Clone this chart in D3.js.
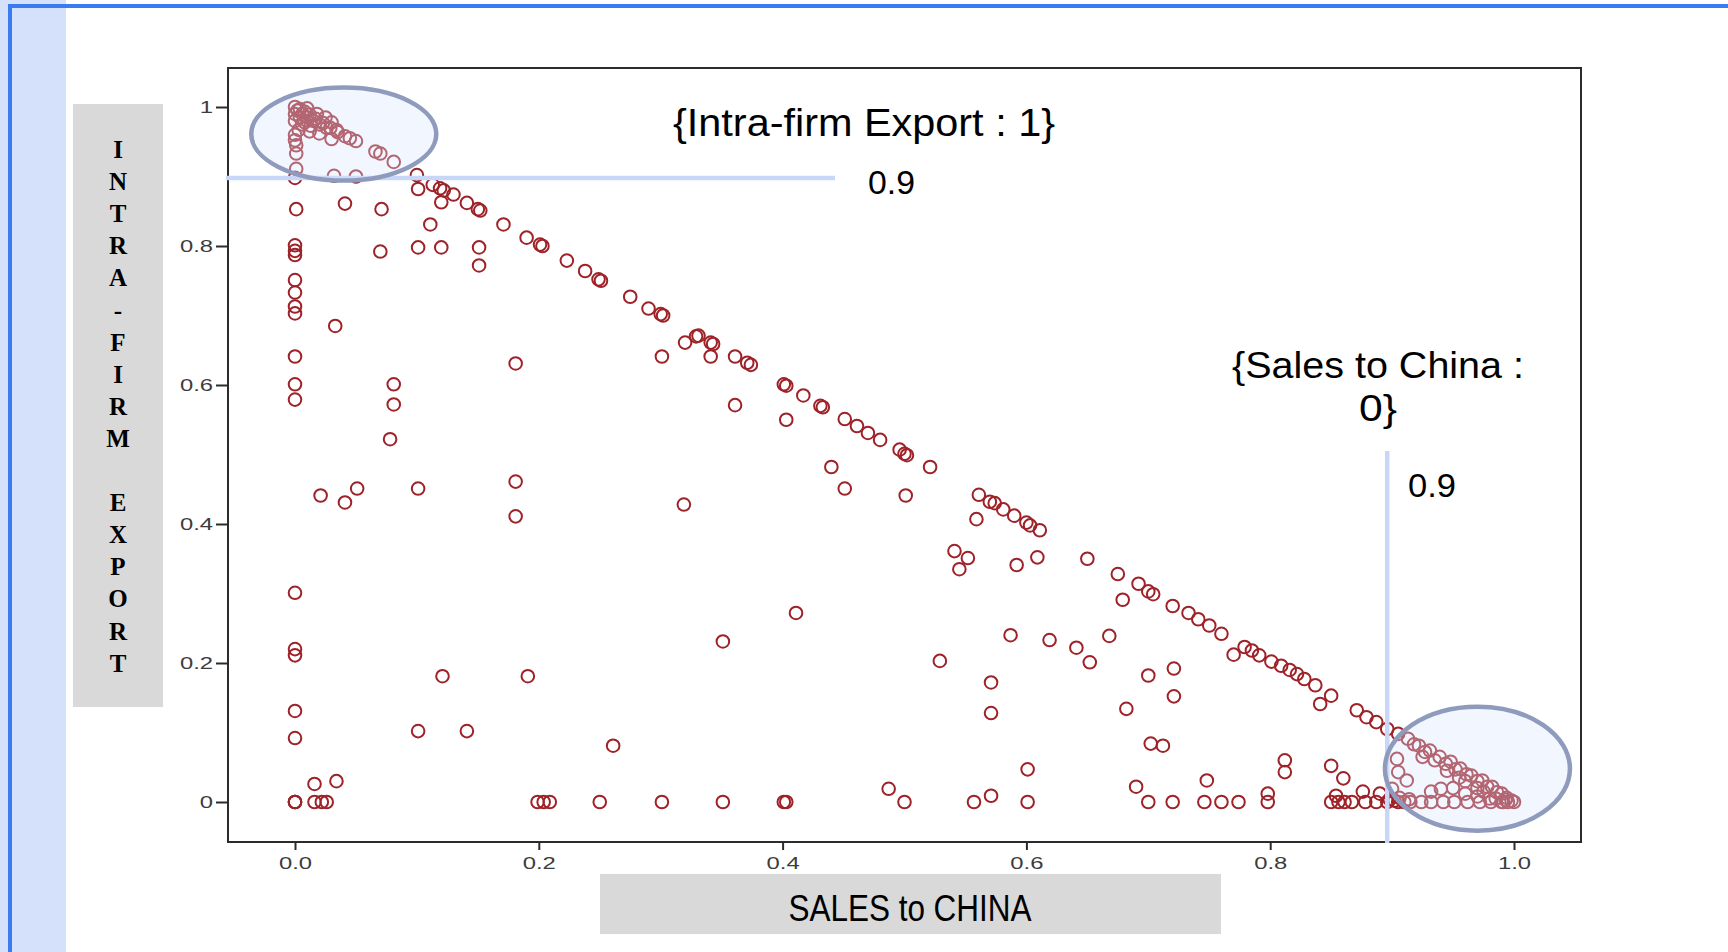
<!DOCTYPE html>
<html><head><meta charset="utf-8">
<script src="https://cdn.jsdelivr.net/npm/d3@7"></script>
<style>html,body{margin:0;padding:0;background:#fff;overflow:hidden}</style>
</head><body>
<svg id="c" width="1728" height="952"></svg>
<script>
// ---------- data ----------
const xTicks = [0, 0.2, 0.4, 0.6, 0.8, 1.0];
const xTickLabels = ["0.0", "0.2", "0.4", "0.6", "0.8", "1.0"];
const yTicks = [0, 0.2, 0.4, 0.6, 0.8, 1];
const yTickLabels = ["0", "0.2", "0.4", "0.6", "0.8", "1"];
const xTitle = "SALES to CHINA";
const yTitle = "INTRA-FIRM EXPORT";
const note1 = "{Intra-firm Export : 1}";
const note2a = "{Sales to China :";
const note2b = "0}";
const cutLabel = "0.9";
const cutExport = 0.898;  // horizontal reference (intra-firm export)
const cutSales = 0.896;   // vertical reference (sales to China)

// [sales to China, intra-firm export]
const cornerTopLeft = [
 [0,1],[0.004,0.997],[0.008,0.993],[0.012,0.989],[0.017,0.983],[0.023,0.977],[0.029,0.970],
 [0.035,0.964],[0.041,0.958],[0.050,0.951],[0,0.990],[0,0.980],[0.004,0.985],[0.008,0.978],
 [0.013,0.973],[0.003,0.967],[0,0.960],[0.030,0.954],[0.034,0.967],[0,0.952],[0.001,0.945],
 [0.001,0.933],[0.066,0.936],[0.070,0.933],[0.081,0.921],[0.001,0.911],[0,0.898],[0.032,0.901],[0.050,0.900],
 [0.002,0.995],[0.006,0.990],[0.010,0.985],[0.015,0.980],[0.020,0.975],[0.006,0.975],[0.012,0.965],
 [0.020,0.962],[0.026,0.970],[0.018,0.990],[0.025,0.985],[0.010,0.998],[0.030,0.978],[0.045,0.955]
];
const diagonal = [
 [0.100,0.902],[0.101,0.882],[0.113,0.888],[0.119,0.883],[0.122,0.880],[0.130,0.874],[0.120,0.863],
 [0.141,0.862],[0.150,0.853],[0.152,0.851],[0.171,0.831],[0.190,0.812],[0.201,0.802],[0.203,0.800],
 [0.223,0.779],[0.238,0.764],[0.249,0.752],[0.251,0.750],[0.275,0.727],[0.290,0.710],[0.300,0.702],
 [0.302,0.700],[0.320,0.661],[0.329,0.670],[0.331,0.671],[0.341,0.661],[0.343,0.659],[0.361,0.641],
 [0.371,0.632],[0.374,0.629],[0.401,0.601],[0.403,0.599],[0.417,0.585],[0.431,0.570],[0.433,0.568],
 [0.451,0.551],[0.461,0.541],[0.470,0.531],[0.480,0.521],[0.496,0.507],[0.500,0.501],[0.502,0.499],
 [0.521,0.482],[0.561,0.442],[0.570,0.432],[0.574,0.430],[0.581,0.421],[0.590,0.412],[0.600,0.402],
 [0.603,0.398],[0.611,0.391],[0.650,0.350],[0.675,0.328],[0.692,0.314],[0.700,0.303],[0.704,0.299],
 [0.720,0.282],[0.733,0.272],[0.741,0.263],[0.750,0.254],[0.760,0.242],[0.779,0.223],[0.785,0.218],
 [0.791,0.211],[0.801,0.202],[0.809,0.196],[0.816,0.190],[0.822,0.184],[0.828,0.177],[0.837,0.168],
 [0.850,0.153],[0.871,0.132],[0.879,0.122],[0.887,0.115],[0.896,0.105],[0.905,0.098],[0.913,0.091],
 [0.922,0.081],[0.931,0.074],[0.939,0.065],[0.948,0.058],[0.956,0.048],[0.965,0.038],[0.974,0.031],
 [0.982,0.022],[0.990,0.012],[0.998,0.002],[0.918,0.083],[0.927,0.072],[0.944,0.055],[0.952,0.047],
 [0.961,0.040],[0.970,0.030],[0.978,0.022],[0.986,0.014],[0.994,0.006],
 [0.935,0.060],[0.945,0.045],[0.955,0.035],[0.960,0.030],[0.970,0.020],[0.975,0.015],[0.985,0.005],
 [0.993,0.003],[0.925,0.065],[0.950,0.020],[0.960,0.012],[0.970,0.008],[0.980,0.005]
];
const interior = [
 [0.041,0.861],[0.071,0.853],[0.001,0.853],[0.111,0.831],[0,0.801],[0,0.793],[0,0.787],[0.070,0.792],
 [0.101,0.798],[0.120,0.798],[0.151,0.798],[0.151,0.772],[0,0.751],[0,0.733],[0,0.713],[0,0.703],
 [0.033,0.685],[0,0.641],[0,0.601],[0,0.579],[0.081,0.601],[0.081,0.572],[0.078,0.522],[0.181,0.631],
 [0.301,0.641],[0.341,0.641],[0.361,0.571],[0.403,0.550],[0.440,0.482],[0.451,0.451],[0.501,0.441],
 [0.021,0.441],[0.041,0.431],[0.051,0.451],[0.101,0.451],[0.181,0.461],[0.181,0.411],[0.319,0.428],
 [0.559,0.407],[0.541,0.361],[0.552,0.351],[0.545,0.335],[0.592,0.341],[0.609,0.352],[0.679,0.291],
 [0.411,0.272],[0.351,0.231],[0.529,0.203],[0.587,0.240],[0.619,0.233],[0.641,0.222],[0.652,0.201],
 [0.668,0.239],[0.700,0.182],[0.721,0.192],[0.721,0.152],[0.682,0.134],[0.571,0.172],[0.571,0.128],
 [0.601,0.047],[0.702,0.084],[0.712,0.081],[0.770,0.212],[0.841,0.141],[0.812,0.060],[0.812,0.043],
 [0.850,0.052],[0.860,0.034],[0.748,0.031],[0.690,0.022],[0.487,0.019],[0.571,0.009],[0.798,0.012],
 [0,0.301],[0,0.220],[0,0.211],[0.121,0.181],[0.191,0.181],[0,0.131],[0,0.092],[0.101,0.102],
 [0.141,0.102],[0.261,0.081],[0.016,0.026],[0.034,0.030],[0.904,0.062],[0.905,0.043],[0.912,0.031],
 [0.932,0.015],[0.940,0.019],[0.900,0.019],[0.890,0.012],[0.876,0.015],[0.854,0.009],
 [0.898,0.004],[0.902,0.002],[0.906,0.006],[0.914,0.004]
];
// sales-to-China values of firms with zero intra-firm export
const zeroExportSales = [
 0,0,0,0.016,0.022,0.026,0.199,0.204,0.209,0.250,0.301,0.351,0.401,0.403,0.500,0.557,0.601,
 0.700,0.720,0.746,0.760,0.774,0.798,0.850,0.856,0.861,0.867,0.878,0.887,0.896,0.905,0.910,
 0.915,0.924,0.932,0.942,0.951,0.962,0.972,0.981,0.991,1.000,0.990,0.995
];

// ---------- drawing ----------
const W = 1728, H = 952;
const svg = d3.select("#c");
const frame = {l: 228, t: 68, r: 1581, b: 842};
const x = d3.scaleLinear().domain([0, 1]).range([295, 1514]);
const y = d3.scaleLinear().domain([0, 1]).range([802, 107]);
const SANS = "Liberation Sans, Arial, sans-serif";

// slide decoration
svg.append("rect").attr("x", 0).attr("y", 0).attr("width", 66).attr("height", H).attr("fill", "#d5e0fb");
svg.append("rect").attr("x", 8).attr("y", 4).attr("width", 4).attr("height", H).attr("fill", "#3b7bf2");
svg.append("rect").attr("x", 8).attr("y", 4).attr("width", W).attr("height", 4).attr("fill", "#3b7bf2");

// y title
svg.append("rect").attr("x", 73).attr("y", 104).attr("width", 90).attr("height", 603).attr("fill", "#d9d9d9");
svg.append("g").selectAll("text").data(yTitle.split("")).join("text")
  .attr("x", 118).attr("y", (d, i) => 158 + i * 32.1)
  .attr("text-anchor", "middle")
  .attr("font-family", "Liberation Serif, Times New Roman, serif")
  .attr("font-weight", "bold").attr("font-size", 25).attr("fill", "#000")
  .text(d => d);

// x title
svg.append("rect").attr("x", 600).attr("y", 874).attr("width", 621).attr("height", 60).attr("fill", "#d9d9d9");
svg.append("text").attr("x", 910).attr("y", 921).attr("text-anchor", "middle")
  .attr("font-family", SANS).attr("font-size", 37).attr("fill", "#000")
  .attr("textLength", 243).attr("lengthAdjust", "spacingAndGlyphs").text(xTitle);

// plot frame
svg.append("rect").attr("x", frame.l).attr("y", frame.t)
  .attr("width", frame.r - frame.l).attr("height", frame.b - frame.t)
  .attr("fill", "#fff").attr("stroke", "#2b2b2b").attr("stroke-width", 2);

// axes
function styleTicks(g) {
  g.select(".domain").remove();
  g.selectAll(".tick line").attr("stroke", "#2b2b2b").attr("stroke-width", 2);
  g.selectAll(".tick text").attr("font-family", SANS).attr("font-size", 17).attr("fill", "#3c3c3c")
    .each(function () {
      const w = this.getComputedTextLength();
      d3.select(this).attr("textLength", w * 1.4).attr("lengthAdjust", "spacingAndGlyphs");
    });
}
const gy = svg.append("g").attr("transform", `translate(${frame.l},0)`)
  .call(d3.axisLeft(y).tickValues(yTicks).tickFormat(d => yTickLabels[yTicks.indexOf(d)])
    .tickSize(12).tickPadding(3).tickSizeOuter(0));
styleTicks(gy);
const gx = svg.append("g").attr("transform", `translate(0,${frame.b})`)
  .call(d3.axisBottom(x).tickValues(xTicks).tickFormat(d => xTickLabels[xTicks.indexOf(d)])
    .tickSize(8).tickPadding(7).tickSizeOuter(0));
styleTicks(gx);

// points
const pts = [...cornerTopLeft, ...diagonal, ...interior, ...zeroExportSales.map(v => [v, 0])];
svg.append("g").selectAll("circle").data(pts).join("circle")
  .attr("cx", d => x(d[0])).attr("cy", d => y(d[1])).attr("r", 6.3)
  .attr("fill", "none").attr("stroke", "#9e2228").attr("stroke-width", 2);

// reference lines
svg.append("line").attr("x1", 226).attr("x2", 835).attr("y1", y(cutExport)).attr("y2", y(cutExport))
  .attr("stroke", "#c8d6f8").attr("stroke-width", 4.5);
svg.append("line").attr("x1", x(cutSales)).attr("x2", x(cutSales)).attr("y1", 451).attr("y2", 843)
  .attr("stroke", "#c8d6f8").attr("stroke-width", 4.5);

// highlight ellipses
[[x(0.04), y(0.961), 92.5, 46.5], [x(0.97), y(0.048), 92.5, 62]].forEach(e => {
  svg.append("ellipse").attr("cx", e[0]).attr("cy", e[1]).attr("rx", e[2]).attr("ry", e[3])
    .attr("fill", "#dbe5fc").attr("fill-opacity", 0.35)
    .attr("stroke", "#8f9bbd").attr("stroke-width", 4.5);
});

// annotations
function note(t, xx, yy, fs, len) {
  svg.append("text").attr("x", xx).attr("y", yy).attr("font-family", SANS).attr("font-size", fs)
    .attr("fill", "#000").attr("textLength", len).attr("lengthAdjust", "spacingAndGlyphs").text(t);
}
note(note1, 673, 136, 38, 382);
note(cutLabel, 868, 194, 34, 47);
note(note2a, 1232, 378, 37, 292);
note(note2b, 1359, 421, 37, 38);
note(cutLabel, 1408, 497, 34, 48);
</script>
</body></html>
